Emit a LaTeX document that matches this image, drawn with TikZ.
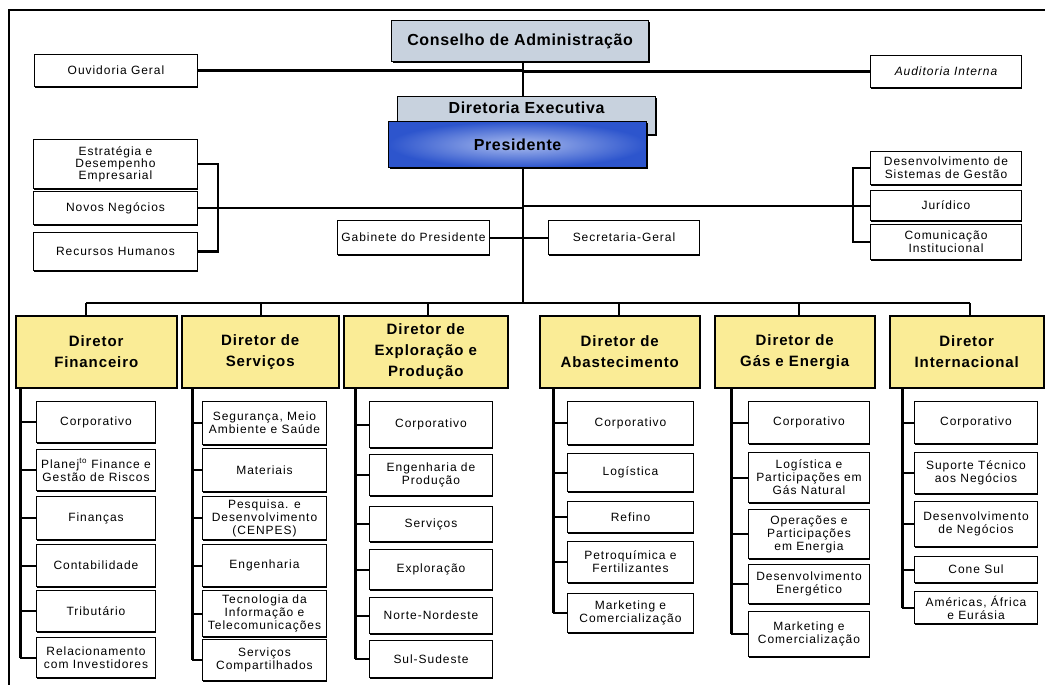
\documentclass[tikz,border=0pt]{standalone}
\usepackage{fontspec}
\setmainfont{Liberation Sans}
\newfontfamily\subfont[LetterSpace=8]{Liberation Sans}
\newfontfamily\dirfont[LetterSpace=6]{Liberation Sans}
\newfontfamily\topfont[LetterSpace=4]{Liberation Sans}
\usetikzlibrary{shadows,backgrounds}
\definecolor{grayblue}{RGB}{200,210,222}
\definecolor{diryellow}{RGB}{250,236,150}
\definecolor{presout}{RGB}{45,85,205}
\definecolor{presin}{RGB}{170,188,238}
\tikzset{
  box/.style={draw=black, line width=1pt, fill=white, inner sep=1pt, align=center,
    font=\subfont\fontsize{12}{13}\selectfont,
    drop shadow={shadow xshift=0.6pt, shadow yshift=-1.4pt, fill=black, opacity=1}},
  dirbox/.style={draw=black, line width=1.5pt, fill=diryellow, inner sep=1pt, align=center,
    font=\dirfont\bfseries\fontsize{15}{21}\selectfont,
    drop shadow={shadow xshift=1.2pt, shadow yshift=-1.4pt, fill=black, opacity=1}},
  topbox/.style={draw=black, line width=1.2pt, fill=grayblue, inner sep=0pt, align=center,
    font=\topfont\bfseries\fontsize{16}{18}\selectfont,
    drop shadow={shadow xshift=1.2pt, shadow yshift=-1.4pt, fill=black, opacity=1}},
  presbox/.style={draw=black, line width=1.2pt, inner color=presin, outer color=presout, inner sep=0pt, align=center,
    font=\topfont\bfseries\fontsize{16}{18}\selectfont,
    drop shadow={shadow xshift=1.2pt, shadow yshift=-1.4pt, fill=black, opacity=1}},
  mainline/.style={line width=2.6pt},
  thinline/.style={line width=2pt},
  spine/.style={line width=3pt},
  tie/.style={line width=2pt},
}
\newcommand\bx[7]{%
  \pgfmathsetmacro\bxw{#5-#3}\pgfmathsetmacro\bxh{#6-#4}%
  \node[#1, minimum width=\bxw pt, minimum height=\bxh pt, anchor=north west] (#2) at (#3,#4) {#7};}
\begin{document}
\begin{tikzpicture}[x=1pt,y=-1pt]
\useasboundingbox (0,0) rectangle (1045,685);
% frame
\draw[line width=2pt] (9,685) -- (9,10) -- (1045,10);

% top
\bx{topbox}{cons}{391}{20}{648}{61}{Conselho de Administração}
\bx{box}{ouv}{34}{54}{197}{86}{Ouvidoria Geral}
\bx{box, font=\subfont\itshape\fontsize{12}{13}\selectfont}{aud}{870}{55}{1021}{87}{Auditoria Interna}
\bx{topbox, text height=17pt, text depth=21pt}{dex}{397}{96}{655}{133}{Diretoria Executiva}
\bx{presbox}{pres}{388}{121}{646}{167}{Presidente}

% staff
\bx{box, font=\subfont\fontsize{12}{12}\selectfont}{est}{33}{139}{197}{188}{Estratégia e\\Desempenho\\Empresarial}
\bx{box}{nn}{33}{191}{197}{224}{Novos Negócios}
\bx{box}{rh}{33}{232}{197}{270}{Recursos Humanos}
\bx{box}{gab}{337}{220}{489}{254}{Gabinete do Presidente}
\bx{box}{sec}{548}{220}{699}{254}{Secretaria-Geral}
\bx{box}{ds}{870}{151}{1021}{184}{Desenvolvimento de\\Sistemas de Gestão}
\bx{box}{jur}{870}{190}{1021}{220}{Jurídico}
\bx{box}{com}{870}{224}{1021}{259}{Comunicação\\Institucional}

% directors
\bx{dirbox}{d1}{15}{315}{176}{387}{Diretor\\Financeiro}
\bx{dirbox}{d2}{181}{315}{338}{387}{Diretor de\\Serviços}
\bx{dirbox}{d3}{343}{315}{507}{387}{Diretor de\\Exploração e\\Produção}
\bx{dirbox}{d4}{539}{315}{699}{387}{Diretor de\\Abastecimento}
\bx{dirbox}{d5}{714}{315}{874}{387}{Diretor de\\Gás e Energia}
\bx{dirbox}{d6}{889}{315}{1043}{387}{Diretor\\Internacional}

% Financeiro
\bx{box}{f1}{36}{401}{155}{442}{Corporativo}
\bx{box}{f2}{36}{449}{155}{490}{Planej\textsuperscript{to} Finance e\\Gestão de Riscos}
\bx{box}{f3}{36}{496}{155}{539}{Finanças}
\bx{box}{f4}{36}{544}{155}{586}{Contabilidade}
\bx{box}{f5}{36}{590}{155}{631}{Tributário}
\bx{box}{f6}{36}{637}{155}{677}{Relacionamento\\com Investidores}
% Servicos
\bx{box}{s1}{202}{401}{326}{444}{Segurança, Meio\\Ambiente e Saúde}
\bx{box}{s2}{202}{448}{326}{491}{Materiais}
\bx{box}{s3}{202}{496}{326}{539}{Pesquisa. e\\Desenvolvimento\\(CENPES)}
\bx{box}{s4}{202}{544}{326}{586}{Engenharia}
\bx{box}{s5}{202}{590}{326}{636}{Tecnologia da\\Informação e\\Telecomunicações}
\bx{box}{s6}{202}{639}{326}{680}{Serviços\\Compartilhados}
% Exploracao
\bx{box}{e1}{369}{401}{492}{447}{Corporativo}
\bx{box}{e2}{369}{454}{492}{495}{Engenharia de\\Produção}
\bx{box}{e3}{369}{506}{492}{541}{Serviços}
\bx{box}{e4}{369}{549}{492}{589}{Exploração}
\bx{box}{e5}{369}{597}{492}{633}{Norte-Nordeste}
\bx{box}{e6}{369}{640}{492}{677}{Sul-Sudeste}
% Abastecimento
\bx{box}{a1}{567}{401}{693}{444}{Corporativo}
\bx{box}{a2}{567}{453}{693}{491}{Logística}
\bx{box}{a3}{567}{501}{693}{532}{Refino}
\bx{box}{a4}{567}{541}{693}{582}{Petroquímica e\\Fertilizantes}
\bx{box}{a5}{567}{593}{693}{632}{Marketing e\\Comercialização}
% Gas
\bx{box}{g1}{748}{401}{869}{443}{Corporativo}
\bx{box}{g2}{748}{452}{869}{502}{Logística e\\Participações em\\Gás Natural}
\bx{box}{g3}{748}{509}{869}{558}{Operações e\\Participações\\em Energia}
\bx{box}{g4}{748}{564}{869}{603}{Desenvolvimento\\Energético}
\bx{box}{g5}{748}{611}{869}{656}{Marketing e\\Comercialização}
% Internacional
\bx{box}{i1}{914}{401}{1037}{443}{Corporativo}
\bx{box}{i2}{914}{452}{1037}{493}{Suporte Técnico\\aos Negócios}
\bx{box}{i3}{914}{501}{1037}{546}{Desenvolvimento\\de Negócios}
\bx{box}{i4}{914}{556}{1037}{582}{Cone Sul}
\bx{box}{i5}{914}{591}{1037}{623}{Américas, África\\e Eurásia}

\begin{scope}[on background layer]
  \coordinate (mv) at (523,303);
  \draw[mainline] (mv |- cons.south) -- (mv);
  \draw[mainline] (ouv.east) -- (ouv.east -| mv) -- (mv |- aud.west) -- (aud.west);
  \draw[thinline] (nn.east) -- (nn.east -| mv) -- (mv |- jur.west) -- (jur.west);
  \draw[thinline] (gab.east) -- (sec.west);
  % left bracket
  \coordinate (lb1) at (218,164);
  \draw[mainline] (est.east) -- (lb1) -- (lb1 |- rh.east) -- (rh.east);
  % right bracket
  \coordinate (rb1) at (853,168);
  \draw[mainline] (ds.west) -- (rb1) -- (rb1 |- com.west) -- (com.west);
  % director bus
  \coordinate (t1) at (86,303);
  \coordinate (t2) at (261,303);
  \coordinate (t3) at (428,303);
  \coordinate (t4) at (619,303);
  \coordinate (t5) at (799,303);
  \coordinate (t6) at (970,303);
  \draw[mainline] (t1) -- (t6);
  \foreach \k in {1,...,6} \draw[mainline] (t\k) -- (t\k |- d\k.north);
  % spines
  \coordinate (sp1) at (20,387);
  \coordinate (sp2) at (192,387);
  \coordinate (sp3) at (355,387);
  \coordinate (sp4) at (553,387);
  \coordinate (sp5) at (731,387);
  \coordinate (sp6) at (902,387);
  \draw[spine] (sp1 |- d1.south) -- (sp1 |- f6.west);
  \draw[spine] (sp2 |- d2.south) -- (sp2 |- s6.west);
  \draw[spine] (sp3 |- d3.south) -- (sp3 |- e6.west);
  \draw[spine] (sp4 |- d4.south) -- (sp4 |- a5.west);
  \draw[spine] (sp5 |- d5.south) -- (sp5 |- g5.west);
  \draw[spine] (sp6 |- d6.south) -- (sp6 |- i5.west);
  \foreach \n in {f1,f2,f3,f4,f5,f6} \draw[tie] (sp1 |- \n.west) -- (\n.west);
  \foreach \n in {s1,s2,s3,s4,s5,s6} \draw[tie] (sp2 |- \n.west) -- (\n.west);
  \foreach \n in {e1,e2,e3,e4,e5,e6} \draw[tie] (sp3 |- \n.west) -- (\n.west);
  \foreach \n in {a1,a2,a3,a4,a5} \draw[tie] (sp4 |- \n.west) -- (\n.west);
  \foreach \n in {g1,g2,g3,g4,g5} \draw[tie] (sp5 |- \n.west) -- (\n.west);
  \foreach \n in {i1,i2,i3,i4,i5} \draw[tie] (sp6 |- \n.west) -- (\n.west);
\end{scope}
\end{tikzpicture}
\end{document}
